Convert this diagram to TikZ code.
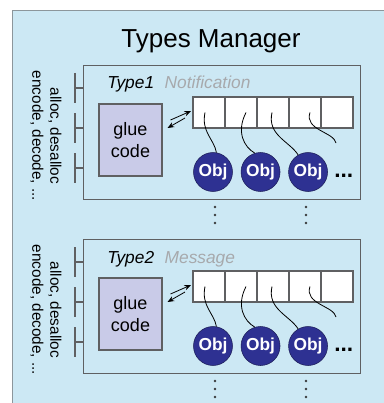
\documentclass[tikz,border=0pt]{standalone}
\usepackage{fontspec}
\setmainfont{Liberation Sans}
\usetikzlibrary{positioning,arrows.meta}
\definecolor{mgrblue}{HTML}{CCE8F4}
\definecolor{mgrline}{HTML}{8C969B}
\definecolor{boxline}{HTML}{5F6062}
\definecolor{gluefill}{HTML}{C9CBE8}
\definecolor{objblue}{HTML}{2E3192}
\definecolor{namegrey}{HTML}{A7A9AC}

\begin{document}
\begin{tikzpicture}[
  x=0.75pt, y=-0.75pt,
  mgrbox/.style={draw=mgrline, fill=mgrblue, line width=1pt, anchor=north west,
                 minimum width=287pt, minimum height=304pt, inner sep=0pt},
  typebox/.style={draw=boxline, line width=0.8pt, anchor=north west, inner sep=0pt,
                  minimum width=207.75pt, minimum height=100.5pt},
  gluebox/.style={draw=boxline, fill=gluefill, line width=0.8pt, align=center,
                  minimum width=47.25pt, minimum height=54pt,
                  font=\fontsize{13.5}{16}\selectfont},
  cellbox/.style={draw=boxline, fill=white, line width=0.8pt, inner sep=0pt, outer sep=0pt,
                  minimum width=24pt, minimum height=23.25pt},
  objnode/.style={circle, draw=objblue!60!black, fill=objblue, minimum size=29.25pt,
                  inner sep=0pt, text=white, font=\fontsize{13}{15}\selectfont\bfseries},
  tname/.style={font=\fontsize{13}{15}\selectfont\itshape, inner sep=0pt},
  arr/.style={-{Stealth[length=5pt, width=4pt]}, line width=0.6pt},
  link/.style={line width=0.6pt},
  iface/.style={draw=boxline, line width=0.8pt},
  ops/.style={rotate=-90, align=center, font=\fontsize{11.5}{13.5}\selectfont}
]
\useasboundingbox (0,0) rectangle (384,403);
\clip (0,0) rectangle (384,403);
% ================= manager frame and title =================
\node[mgrbox] (mgr) at (12,10) {};
\node[font=\fontsize{19.5}{23}\selectfont, anchor=base] (title) at (211,48) {Types Manager};
% ================= one block per registered type =================
\foreach \k/\kind/\dy in {1/Notification/0, 2/Message/174}{
  \begin{scope}[shift={(0,\dy)}]
    \node[typebox] (box\k) at (83,65) {};
    \node[tname, anchor=base west] (type\k) at (107,89) {Type\k};
    \node[tname, text=namegrey, base right=7.5pt of type\k] (name\k) {\kind};
    % glue code and the instance table
    \node[gluebox] (glue\k) at (130.5,140) {glue\\code};
    \node[cellbox, anchor=north west] (c\k1) at (193,97) {};
    \foreach \i [count=\j from 2] in {1,...,4}{\node[cellbox, right=0pt of c\k\i] (c\k\j) {};}
    \draw[arr] ([shift={(8,-20)}]glue\k.east) -- ([shift={(-2,-1.5)}]c\k1.west);
    \draw[arr] ([shift={(-8,5.5)}]c\k1.west) -- ([shift={(5,-12)}]glue\k.east);
    % objects hanging off the table
    \node[objnode] (o\k1) at (213,172) {Obj};
    \node[objnode, right=6pt of o\k1] (o\k2) {Obj};
    \node[objnode, right=6pt of o\k2] (o\k3) {Obj};
    \node[font=\fontsize{17}{19}\selectfont\bfseries, anchor=base west, inner sep=0pt] (more\k) at (334,177) {...};
    \coordinate (end\k) at (336,143);
    \draw[link] ([xshift=-3pt]c\k1.center) .. controls (201,132) and (214,139) .. (o\k1.80);
    \draw[link] ([xshift=3.75pt]c\k2.center) .. controls (236,132) and (244,147) .. (o\k2.107);
    \draw[link] ([xshift=-0.75pt]c\k3.center) .. controls (267,135) and (289,141) .. (o\k3.120);
    \draw[link] ([xshift=3.75pt]c\k4.center) .. controls (304,130) and (334,132) .. (end\k);
    % interface ticks and operations on the left
    \foreach \y in {88,128,168}{
      \draw[iface] (75,\y-15) -- (75,\y+15) (75,\y) -- (75,\y -| box\k.west);
    }
    \node[ops] (ops\k) at (46,136) {alloc, desalloc\\encode, decode, ...};
    % more instances below
    \foreach \x in {215,306}{
      \foreach \y in {207,215,223}{\fill[boxline!60!black] (\x,\y) circle (1.1pt);}
    }
  \end{scope}
}
\end{tikzpicture}
\end{document}
